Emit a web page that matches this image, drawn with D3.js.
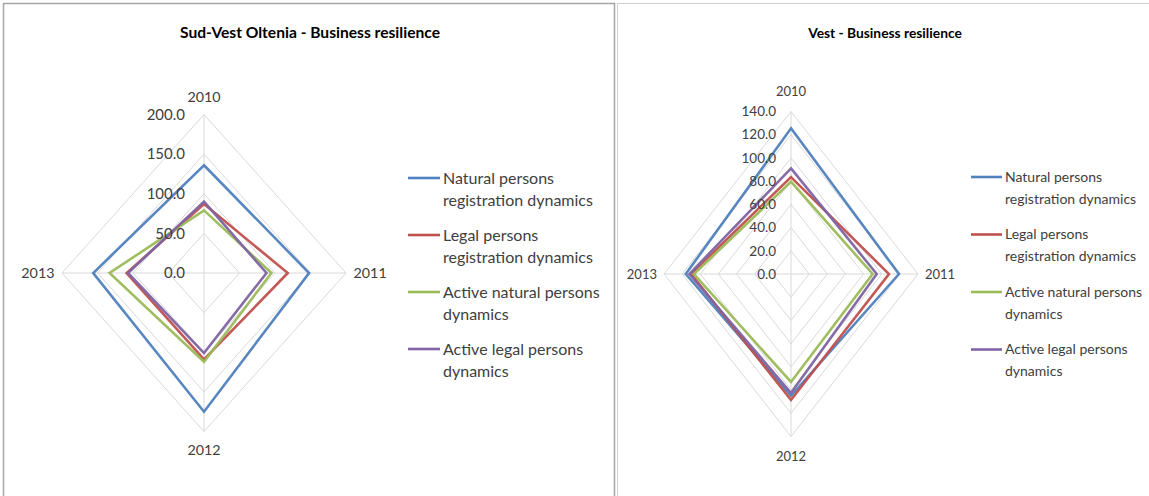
<!DOCTYPE html>
<html><head><meta charset="utf-8">
<script src="https://cdn.jsdelivr.net/npm/d3@7"></script>
<style>
body{margin:0;background:#fff;}
svg{display:block;font-family:Lato,"Open Sans",sans-serif;}
</style></head><body>
<svg id="c" width="1149" height="496"></svg>
<script>
const categories = ["2010","2011","2012","2013"];
const seriesNames = ["Natural persons registration dynamics","Legal persons registration dynamics","Active natural persons dynamics","Active legal persons dynamics"];
const legendLines = [["Natural persons","registration dynamics"],["Legal persons","registration dynamics"],["Active natural persons","dynamics"],["Active legal persons","dynamics"]];
const colors = ["#4F81BD","#C0504D","#9BBB59","#8064A2"];

const sudVestTitle = "Sud-Vest Oltenia - Business resilience";
const sudVestTicks = [0,50,100,150,200];
const sudVestNatural = [136,148,175,156];
const sudVestLegal = [87,118,109,109];
const sudVestActiveNatural = [79,95,112,133];
const sudVestActiveLegal = [90,88,101,107];

const vestTitle = "Vest - Business resilience";
const vestTicks = [0,20,40,60,80,100,120,140];
const vestNatural = [125.5,119,105,116];
const vestLegal = [83.5,108,108.5,110];
const vestActiveNatural = [79.5,90,93,107];
const vestActiveLegal = [91,94.5,102.5,112];

const svg = d3.select("#c");

// panel frames
svg.append("rect").attr("x",3.5).attr("y",3.5).attr("width",611).attr("height",500)
  .attr("fill","none").attr("stroke","#a6a6a6").attr("stroke-width",1.5);
svg.append("rect").attr("x",617.5).attr("y",3.5).attr("width",540).attr("height",500)
  .attr("fill","none").attr("stroke","#d0d0d0").attr("stroke-width",1);

function radar(cfg){
  const g = svg.append("g");
  const mx = cfg.ticks[cfg.ticks.length-1];
  const rx = d3.scaleLinear().domain([0,mx]).range([0,cfg.rx]);
  const ry = d3.scaleLinear().domain([0,mx]).range([0,cfg.ry]);
  const ang = d3.scalePoint().domain(categories).range([0,2*Math.PI*3/4]);
  const pt = (c,v)=>[cfg.cx+Math.sin(ang(c))*rx(v), cfg.cy-Math.cos(ang(c))*ry(v)];
  const line = d3.line().curve(d3.curveLinearClosed);

  // title
  g.append("text").attr("x",cfg.titleX).attr("y",33).attr("dy","0.35em").attr("text-anchor","middle")
    .attr("font-size",cfg.titleSize).attr("font-weight","bold").attr("fill","#000").text(cfg.title);

  // grid rings
  cfg.ticks.slice(1).forEach(t=>{
    g.append("path").attr("d",line(categories.map(c=>pt(c,t))))
      .attr("fill","none").attr("stroke","#d9d9d9").attr("stroke-width",1);
  });
  // spokes
  categories.forEach(c=>{
    const p = pt(c,mx);
    g.append("line").attr("x1",cfg.cx).attr("y1",cfg.cy).attr("x2",p[0]).attr("y2",p[1])
      .attr("stroke","#d9d9d9").attr("stroke-width",1);
  });
  // series
  cfg.series.forEach((s,i)=>{
    g.append("path").attr("d",line(categories.map((c,j)=>pt(c,s[j]))))
      .attr("fill","none").attr("stroke",colors[i]).attr("stroke-width",2.6)
      .attr("stroke-linejoin","miter").attr("opacity",0.95);
  });
  // tick labels
  cfg.ticks.forEach(t=>{
    g.append("text").attr("x",cfg.cx-cfg.tickGap).attr("y",cfg.cy-ry(t)).attr("dy","0.35em")
      .attr("text-anchor","end").attr("font-size",cfg.tickSize).attr("fill","#404040")
      .text(d3.format(".1f")(t));
  });
  // category labels
  categories.forEach(c=>{
    const p = pt(c,mx);
    const a = ang(c);
    let x=p[0], y=p[1], anchor="middle";
    if (Math.abs(Math.sin(a))<0.01){ y += (Math.cos(a)>0? -cfg.vOff : cfg.vOff); }
    else if (Math.sin(a)>0){ x += cfg.hOff; anchor="start"; }
    else { x -= cfg.hOff; anchor="end"; }
    g.append("text").attr("x",x).attr("y",y).attr("dy","0.35em").attr("text-anchor",anchor)
      .attr("font-size",cfg.catSize).attr("fill","#404040").text(c);
  });
  // legend
  legendLines.forEach((ls,i)=>{
    const y0 = cfg.legY + i*cfg.legStep;
    g.append("line").attr("x1",cfg.legX).attr("x2",cfg.legX+cfg.legLen).attr("y1",y0).attr("y2",y0)
      .attr("stroke",colors[i]).attr("stroke-width",2.6);
    ls.forEach((t,k)=>{
      g.append("text").attr("x",cfg.legX+cfg.legLen+3).attr("y",y0+k*22).attr("dy","0.35em")
        .attr("font-size",cfg.legSize).attr("fill","#404040").text(t);
    });
  });
}

radar({title:sudVestTitle, titleX:310, titleSize:15.6, cx:204, cy:273, rx:142, ry:158.5, ticks:sudVestTicks,
  series:[sudVestNatural,sudVestLegal,sudVestActiveNatural,sudVestActiveLegal],
  tickGap:19, tickSize:15, catSize:14.3, vOff:18, hOff:7.5,
  legX:408, legLen:32, legSize:16, legY:178, legStep:57});
radar({title:vestTitle, titleX:885, titleSize:13.8, cx:791, cy:274, rx:127, ry:162.5, ticks:vestTicks,
  series:[vestNatural,vestLegal,vestActiveNatural,vestActiveLegal],
  tickGap:15, tickSize:13.5, catSize:13, vOff:20, hOff:7,
  legX:971, legLen:31, legSize:14, legY:177, legStep:57.5});
</script>
</body></html>
